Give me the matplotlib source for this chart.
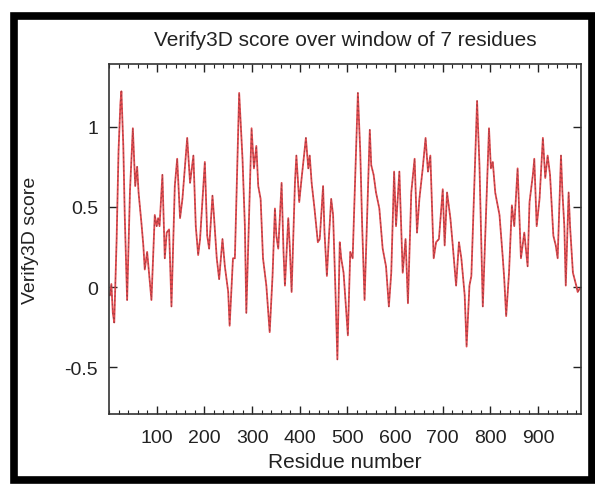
import matplotlib.pyplot as plt
from matplotlib.patches import Rectangle
from matplotlib.ticker import MultipleLocator

plt.rcParams['font.family'] = ['Liberation Sans', 'DejaVu Sans']

residues = [2, 5, 8, 11, 16, 20, 24, 26, 28, 30, 33, 38, 44, 50, 53, 55, 59, 62, 68, 72,
            75, 80, 84, 89, 96, 100, 103, 106, 112, 117, 121, 126, 131, 138, 143, 149, 154,
            164, 170, 177, 182, 187, 191, 201, 206, 210, 217, 220, 226, 231, 238, 243, 250,
            253, 260, 264, 273, 280, 285, 288, 299, 304, 309, 313, 318, 323, 330, 337, 343,
            348, 351, 355, 362, 366, 369, 376, 379, 383, 390, 393, 399, 404, 413, 418, 421,
            425, 431, 438, 442, 449, 452, 457, 461, 466, 470, 475, 479, 484, 487, 492, 501,
            506, 511, 522, 527, 531, 536, 547, 550, 555, 560, 567, 574, 581, 587, 592, 598,
            602, 609, 616, 622, 627, 634, 641, 646, 651, 658, 664, 669, 674, 681, 686, 692,
            700, 704, 709, 716, 721, 728, 734, 739, 746, 750, 756, 760, 772, 777, 780, 784,
            797, 801, 805, 810, 819, 826, 829, 833, 839, 845, 850, 857, 864, 871, 878, 882,
            889, 892, 897, 903, 910, 915, 920, 925, 932, 937, 941, 948, 951, 955, 958, 964,
            967, 973, 980, 983, 987]
scores = [-0.05, 0.02, -0.16, -0.22, 0.30, 0.85, 1.15, 1.22, 1.05, 0.88, 0.45, -0.08, 0.60,
          0.99, 0.78, 0.63, 0.75, 0.59, 0.40, 0.26, 0.11, 0.22, 0.09, -0.08, 0.45, 0.38, 0.43,
          0.38, 0.70, 0.18, 0.34, 0.36, -0.12, 0.63, 0.80, 0.43, 0.55, 0.93, 0.65, 0.82, 0.38,
          0.20, 0.30, 0.78, 0.32, 0.24, 0.57, 0.45, 0.18, 0.05, 0.30, 0.13, -0.03, -0.24, 0.18,
          0.18, 1.21, 0.80, 0.38, -0.16, 0.99, 0.74, 0.88, 0.63, 0.55, 0.18, 0.01, -0.28, 0.07,
          0.49, 0.32, 0.24, 0.65, 0.22, 0.01, 0.43, 0.26, -0.03, 0.65, 0.82, 0.53, 0.68, 0.93,
          0.74, 0.82, 0.65, 0.49, 0.28, 0.30, 0.63, 0.34, 0.07, 0.30, 0.55, 0.45, -0.03, -0.45,
          0.28, 0.18, 0.09, -0.30, 0.22, 0.18, 1.21, 0.84, 0.38, -0.08, 0.98, 0.76, 0.70, 0.59,
          0.49, 0.24, 0.13, -0.12, 0.09, 0.72, 0.38, 0.72, 0.09, 0.30, -0.10, 0.59, 0.80, 0.34,
          0.55, 0.74, 0.93, 0.72, 0.82, 0.18, 0.28, 0.30, 0.61, 0.26, 0.59, 0.43, 0.26, 0.01,
          0.28, 0.18, -0.05, -0.37, 0.01, 0.07, 1.16, 0.76, 0.38, -0.12, 0.99, 0.74, 0.78, 0.59,
          0.45, 0.18, 0.05, -0.18, 0.09, 0.51, 0.38, 0.74, 0.18, 0.34, 0.13, 0.53, 0.70, 0.80,
          0.38, 0.55, 0.93, 0.68, 0.82, 0.70, 0.32, 0.26, 0.18, 0.82, 0.59, 0.38, 0.01, 0.59,
          0.38, 0.09, 0.01, -0.03, -0.01]

xticks = [100, 200, 300, 400, 500, 600, 700, 800, 900]
yticks = [-0.5, 0, 0.5, 1]

fig = plt.figure(figsize=(5.95, 4.85), dpi=100)
ax = fig.add_axes([0.1832, 0.1443, 0.7933, 0.7216])

ax.plot(residues, scores, color='#e04a4e', lw=1.3)
ax.plot(residues, scores, color='#6a3038', lw=0.8, ls=(0, (1.5, 2.5)), alpha=0.5)

ax.set_xlim(0, 990)
ax.set_ylim(-0.79, 1.39)
ax.set_xticks(xticks)
ax.set_yticks(yticks)
ax.set_yticklabels(['-0.5', '0', '0.5', '1'])
ax.xaxis.set_minor_locator(MultipleLocator(20))
ax.tick_params(which='both', direction='in', top=True, right=True, labelsize=14, colors='#222222')
ax.tick_params(which='major', length=6, width=1)
ax.tick_params(which='minor', length=3, width=0.8)
ax.tick_params(axis='x', pad=11)
ax.tick_params(axis='y', pad=8)
for s in ax.spines.values():
    s.set_linewidth(1.2)
    s.set_color('#333333')

ax.set_xlabel('Residue number', fontsize=15, color='#222222', labelpad=4)
ax.set_ylabel('Verify3D score', fontsize=14, color='#222222', labelpad=18)
ax.set_title('Verify3D score over window of 7 residues', fontsize=15, color='#222222', pad=14)

# thick black frame round the whole picture
fig.patches.append(Rectangle((13.5 / 595, 4 / 485), 578 / 595, 464 / 485, transform=fig.transFigure,
                             fill=False, edgecolor='black', linewidth=5.5))

fig.savefig('out.png', dpi=100)
